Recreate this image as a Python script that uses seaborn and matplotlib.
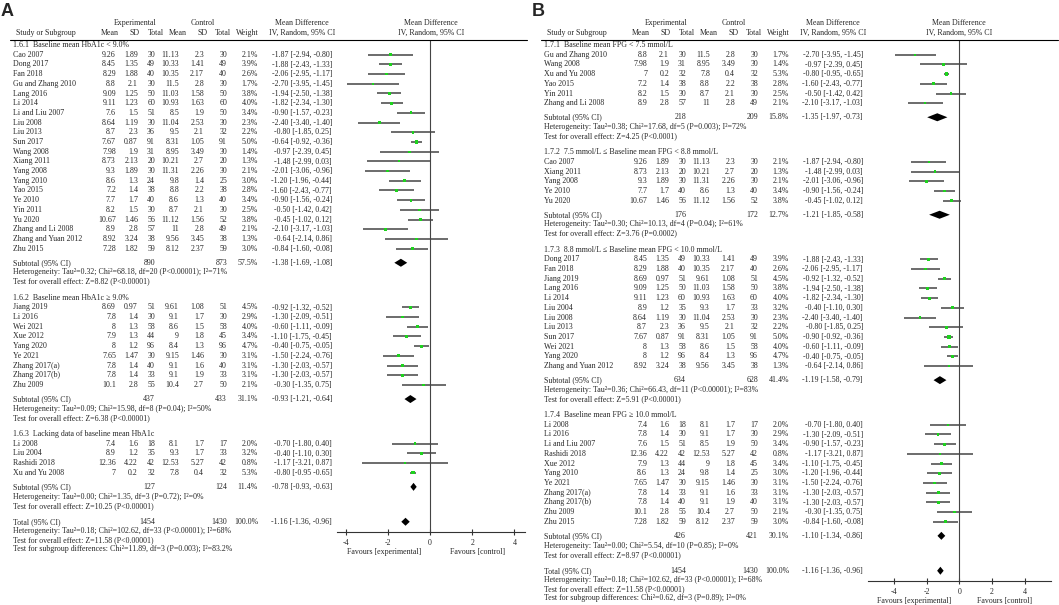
import pandas as pd
import matplotlib
matplotlib.use("Agg")
import matplotlib.pyplot as plt
import seaborn as sns

# --- Study level data (same studies in both panels) ---
studies = ["Cao 2007", "Dong 2017", "Fan 2018", "Gu and Zhang 2010", "Lang 2016", "Li 2014",
           "Li and Liu 2007", "Liu 2008", "Liu 2013", "Sun 2017", "Wang 2008", "Xiang 2011",
           "Yang 2008", "Yang 2010", "Yao 2015", "Ye 2010", "Yin 2011", "Yu 2020",
           "Zhang and Li 2008", "Zhang and Yuan 2012", "Zhu 2015",
           "Jiang 2019", "Li 2016", "Wei 2021", "Xue 2012", "Yang 2020", "Ye 2021",
           "Zhang 2017(a)", "Zhang 2017(b)", "Zhu 2009",
           "Li 2008", "Liu 2004", "Rashidi 2018", "Xu and Yu 2008"]
exp_mean = [9.26, 8.45, 8.29, 8.8, 9.09, 9.11, 7.6, 8.64, 8.7, 7.67, 7.98, 8.73, 9.3, 8.6, 7.2, 7.7, 8.2,
            10.67, 8.9, 8.92, 7.28, 8.69, 7.8, 8, 7.9, 8, 7.65, 7.8, 7.8, 10.1, 7.4, 8.9, 12.36, 7]
exp_sd = [1.89, 1.35, 1.88, 2.1, 1.25, 1.23, 1.5, 1.19, 2.3, 0.87, 1.9, 2.13, 1.89, 1.3, 1.4, 1.7, 1.5,
          1.46, 2.8, 3.24, 1.82, 0.97, 1.4, 1.3, 1.3, 1.2, 1.47, 1.4, 1.4, 2.8, 1.6, 1.2, 4.22, 0.2]
exp_n = [30, 49, 40, 30, 50, 60, 51, 30, 36, 91, 31, 20, 30, 24, 38, 40, 30, 56, 57, 38, 59,
         51, 30, 58, 44, 96, 30, 40, 33, 55, 18, 35, 42, 32]
ctl_mean = [11.13, 10.33, 10.35, 11.5, 11.03, 10.93, 8.5, 11.04, 9.5, 8.31, 8.95, 10.21, 11.31, 9.8, 8.8,
            8.6, 8.7, 11.12, 11, 9.56, 8.12, 9.61, 9.1, 8.6, 9, 8.4, 9.15, 9.1, 9.1, 10.4, 8.1, 9.3,
            12.53, 7.8]
ctl_sd = [2.3, 1.41, 2.17, 2.8, 1.58, 1.63, 1.9, 2.53, 2.1, 1.05, 3.49, 2.7, 2.26, 1.4, 2.2, 1.3, 2.1,
          1.56, 2.8, 3.45, 2.37, 1.08, 1.7, 1.5, 1.8, 1.3, 1.46, 1.6, 1.9, 2.7, 1.7, 1.7, 5.27, 0.4]
ctl_n = [30, 49, 40, 30, 50, 60, 50, 30, 32, 91, 30, 20, 30, 25, 38, 40, 30, 52, 49, 38, 59,
         51, 30, 58, 45, 96, 30, 40, 33, 50, 17, 33, 42, 32]
weight = [2.1, 3.9, 2.6, 1.7, 3.8, 4.0, 3.4, 2.3, 2.2, 5.0, 1.4, 1.3, 2.1, 3.0, 2.8, 3.4, 2.5, 3.8, 2.1,
          1.3, 3.0, 4.5, 2.9, 4.0, 3.4, 4.7, 3.1, 3.1, 3.1, 2.1, 2.0, 3.2, 0.8, 5.3]
md = [-1.87, -1.88, -2.06, -2.70, -1.94, -1.82, -0.90, -2.40, -0.80, -0.64, -0.97, -1.48, -2.01, -1.20,
      -1.60, -0.90, -0.50, -0.45, -2.10, -0.64, -0.84, -0.92, -1.30, -0.60, -1.10, -0.40, -1.50, -1.30,
      -1.30, -0.30, -0.70, -0.40, -1.17, -0.80]
ci_lo = [-2.94, -2.43, -2.95, -3.95, -2.50, -2.34, -1.57, -3.40, -1.85, -0.92, -2.39, -2.99, -3.06, -1.96,
         -2.43, -1.56, -1.42, -1.02, -3.17, -2.14, -1.60, -1.32, -2.09, -1.11, -1.75, -0.75, -2.24, -2.03,
         -2.03, -1.35, -1.80, -1.10, -3.21, -0.95]
ci_hi = [-0.80, -1.33, -1.17, -1.45, -1.38, -1.30, -0.23, -1.40, 0.25, -0.36, 0.45, 0.03, -0.96, -0.44,
         -0.77, -0.24, 0.42, 0.12, -1.03, 0.86, -0.08, -0.52, -0.51, -0.09, -0.45, -0.05, -0.76, -0.57,
         -0.57, 0.75, 0.40, 0.30, 0.87, -0.65]

# --- Overall ---
total_n = [1454, 1430]
total_ci = [-1.16, -1.36, -0.96]
total_het = "Heterogeneity: Tau²=0.18; Chi²=102.62, df=33 (P<0.00001); I²=68%"
total_test = "Test for overall effect: Z=11.58 (P<0.00001)"

# --- Panel A: subgroups by baseline HbA1c ---
a_titles = ["1.6.1  Baseline mean HbA1c < 9.0%", "1.6.2  Baseline mean HbA1c ≥ 9.0%",
            "1.6.3  Lacking data of baseline mean HbA1c"]
a_members = [studies[:21], studies[21:30], studies[30:]]
a_sub_n = [(890, 873), (437, 433), (127, 124)]
a_sub_w = [57.5, 31.1, 11.4]
a_sub_ci = [(-1.38, -1.69, -1.08), (-0.93, -1.21, -0.64), (-0.78, -0.93, -0.63)]
a_het = ["Heterogeneity: Tau²=0.32; Chi²=68.18, df=20 (P<0.00001); I²=71%",
         "Heterogeneity: Tau²=0.09; Chi²=15.98, df=8 (P=0.04); I²=50%",
         "Heterogeneity: Tau²=0.00; Chi²=1.35, df=3 (P=0.72); I²=0%"]
a_test = ["Test for overall effect: Z=8.82 (P<0.00001)", "Test for overall effect: Z=6.38 (P<0.00001)",
          "Test for overall effect: Z=10.25 (P<0.00001)"]
a_sg = "Test for subgroup differences: Chi²=11.89, df=3 (P=0.003); I²=83.2%"
a_ci_text = {"Xu and Yu 2008": "-0.80 [-0.95 -0.65]"}

# --- Panel B: subgroups by baseline FPG ---
b_titles = ["1.7.1  Baseline mean FPG < 7.5 mmol/L",
            "1.7.2  7.5 mmol/L ≤ Baseline mean FPG < 8.8 mmol/L",
            "1.7.3  8.8 mmol/L ≤ Baseline mean FPG < 10.0 mmol/L",
            "1.7.4  Baseline mean FPG ≥ 10.0 mmol/L"]
b_members = [["Gu and Zhang 2010", "Wang 2008", "Xu and Yu 2008", "Yao 2015", "Yin 2011", "Zhang and Li 2008"],
             ["Cao 2007", "Xiang 2011", "Yang 2008", "Ye 2010", "Yu 2020"],
             ["Dong 2017", "Fan 2018", "Jiang 2019", "Lang 2016", "Li 2014", "Liu 2004", "Liu 2008",
              "Liu 2013", "Sun 2017", "Wei 2021", "Yang 2020", "Zhang and Yuan 2012"],
             ["Li 2008", "Li 2016", "Li and Liu 2007", "Rashidi 2018", "Xue 2012", "Yang 2010", "Ye 2021",
              "Zhang 2017(a)", "Zhang 2017(b)", "Zhu 2009", "Zhu 2015"]]
b_sub_n = [(218, 209), (176, 172), (634, 628), (426, 421)]
b_sub_w = [15.8, 12.7, 41.4, 30.1]
b_sub_ci = [(-1.35, -1.97, -0.73), (-1.21, -1.85, -0.58), (-1.19, -1.58, -0.79), (-1.10, -1.34, -0.86)]
b_het = ["Heterogeneity: Tau²=0.38; Chi²=17.68, df=5 (P=0.003); I²=72%",
         "Heterogeneity: Tau²=0.30; Chi²=10.13, df=4 (P=0.04); I²=61%",
         "Heterogeneity: Tau²=0.36; Chi²=66.43, df=11 (P<0.00001); I²=83%",
         "Heterogeneity: Tau²=0.00; Chi²=5.54, df=10 (P=0.85); I²=0%"]
b_test = ["Test for overall effect: Z=4.25 (P<0.0001)", "Test for overall effect: Z=3.76 (P=0.0002)",
          "Test for overall effect: Z=5.91 (P<0.00001)", "Test for overall effect: Z=8.97 (P<0.00001)"]
b_sg = "Test for subgroup differences: Chi²=0.62, df=3 (P=0.89); I²=0%"
b_ci_text = {"Sun 2017": "-0.90 [-0.92, -0.36]"}
b_n_swap = {"Zhang 2017(a)": 33, "Zhang 2017(b)": 40}

# --- Figure setup ---
sns.set_style("white")
plt.rcParams["font.family"] = ["Liberation Serif", "DejaVu Serif"]
plt.rcParams["axes.unicode_minus"] = False

W, H = 1059, 605
FS = 5.7
ROW = 9.7
GREEN = "#1ed21e"
fig = plt.figure(figsize=(W / 100, H / 100), dpi=100)


def txt(x, y, s, ha="left", **kw):
    fig.text(x / W, 1 - y / H, s, ha=ha, va="center", fontsize=kw.pop("fontsize", FS), **kw)


def ci_str(m, lo, hi):
    return f"{m:.2f} [{lo:.2f}, {hi:.2f}]"


def draw_panel(x0, letter, titles, members, sub_n, sub_w, sub_ci, het, test, sg,
               zero_px, ppu, xlim, ci_text={}, n_fix={}):
    cols = [116, 138, 155, 179, 204, 227]
    c_w, c_ci = 258, 332
    ax_left = zero_px + xlim[0] * ppu
    ax_w = (xlim[1] - xlim[0]) * ppu
    ax_mid = ax_left + ax_w / 2

    # --- Header ---
    txt(x0 + 1, 11, letter, fontsize=13, fontweight="bold", family="Liberation Sans")
    txt(x0 + 135, 23, "Experimental", ha="center")
    txt(x0 + 203, 23, "Control", ha="center")
    txt(x0 + 16, 33, "Study or Subgroup")
    for cx, lab in zip([110, 135, 155.5, 178, 203, 223, 247.5],
                       ["Mean", "SD", "Total", "Mean", "SD", "Total", "Weight"]):
        txt(x0 + cx, 33, lab, ha="center")
    for cx in [x0 + 302, ax_mid]:
        txt(cx, 23, "Mean Difference", ha="center")
        txt(cx, 32.7, "IV, Random, 95% CI", ha="center")
    fig.add_artist(plt.Line2D([(x0 + 10) / W, (x0 + 527) / W], [1 - 40 / H] * 2, color="black", lw=0.8))

    # --- Table rows ---
    pts, dia = [], []
    k = 0
    for gi, names in enumerate(members):
        txt(x0 + 13, 45 + ROW * k, titles[gi])
        for j, nm in enumerate(names):
            i = studies.index(nm)
            y = 45 + ROW * (k + 1 + j)
            ne = n_fix.get(nm, exp_n[i])
            nc = n_fix.get(nm, ctl_n[i])
            txt(x0 + 13, y, nm)
            for cx, v in zip(cols, [exp_mean[i], exp_sd[i], ne, ctl_mean[i], ctl_sd[i], nc]):
                txt(x0 + cx, y, f"{v:g}", ha="right")
            txt(x0 + c_w, y, f"{weight[i]:.1f}%", ha="right")
            txt(x0 + c_ci, y, ci_text.get(nm, ci_str(md[i], ci_lo[i], ci_hi[i])), ha="right")
            pts.append({"md": md[i], "lo": ci_lo[i], "hi": ci_hi[i], "weight": weight[i], "y": y})
        last = k + len(names)
        y = 45 + ROW * (last + 1.45)
        txt(x0 + 13, y, "Subtotal (95% CI)")
        txt(x0 + cols[2], y, f"{sub_n[gi][0]}", ha="right")
        txt(x0 + cols[5], y, f"{sub_n[gi][1]}", ha="right")
        txt(x0 + c_w, y, f"{sub_w[gi]:.1f}%", ha="right")
        txt(x0 + c_ci, y, ci_str(*sub_ci[gi]), ha="right")
        dia.append((*sub_ci[gi], y))
        txt(x0 + 13, 45 + ROW * (last + 2.45), het[gi])
        txt(x0 + 13, 45 + ROW * (last + 3.4), test[gi])
        k = last + 3.4 + 1.65

    # --- Overall ---
    ty = 45 + ROW * k
    txt(x0 + 13, ty, "Total (95% CI)")
    txt(x0 + cols[2], ty, f"{total_n[0]}", ha="right")
    txt(x0 + cols[5], ty, f"{total_n[1]}", ha="right")
    txt(x0 + c_w, ty, "100.0%", ha="right")
    txt(x0 + c_ci, ty, ci_str(*total_ci), ha="right")
    dia.append((*total_ci, ty))
    txt(x0 + 13, ty + ROW * 0.95, total_het)
    txt(x0 + 13, ty + ROW * 1.9, total_test)
    txt(x0 + 13, ty + ROW * 2.85, sg)

    # --- Forest axes (y in pixel rows) ---
    bottom = ty + 10
    ax = fig.add_axes([ax_left / W, 1 - bottom / H, ax_w / W, (bottom - 40) / H])
    ax.set_xlim(*xlim)
    ax.set_ylim(bottom, 40)
    df = pd.DataFrame(pts)
    ax.hlines(df["y"], df["lo"], df["hi"], color="#444444", lw=1.1, zorder=2)
    sns.scatterplot(data=df, x="md", y="y", size="weight", sizes=(2, 6), marker="s", color=GREEN,
                    linewidth=0, legend=False, ax=ax, zorder=3)
    for m, lo, hi, y in dia:
        ax.fill([lo, m, hi, m], [y, y - 4, y, y + 4], color="black", lw=0, zorder=4)
    ax.axvline(0, color="#444444", lw=0.8, zorder=1)
    for s in ["top", "left", "right"]:
        ax.spines[s].set_visible(False)
    ax.spines["bottom"].set_color("#333333")
    ax.spines["bottom"].set_linewidth(0.8)
    ax.set_yticks([])
    ax.set_xticks([-4, -2, 0, 2, 4])
    ax.tick_params(axis="x", direction="inout", length=5, width=0.8, labelsize=FS, pad=2.5,
                   bottom=True, color="#333333")
    ax.set_xlabel("")
    ax.set_ylabel("")
    ax.patch.set_alpha(0)
    txt(ax_left + 0.25 * ax_w, bottom + 20, "Favours [experimental]", ha="center")
    txt(ax_left + 0.75 * ax_w, bottom + 20, "Favours [control]", ha="center")


draw_panel(0, "A", a_titles, a_members, a_sub_n, a_sub_w, a_sub_ci, a_het, a_test, a_sg,
           430, 21.1, (-4.4, 4.5), ci_text=a_ci_text)
draw_panel(531, "B", b_titles, b_members, b_sub_n, b_sub_w, b_sub_ci, b_het, b_test, b_sg,
           959.3, 16.3, (-5.6, 5.6), ci_text=b_ci_text, n_fix=b_n_swap)

fig.savefig("out.png", dpi=100, facecolor="white")
